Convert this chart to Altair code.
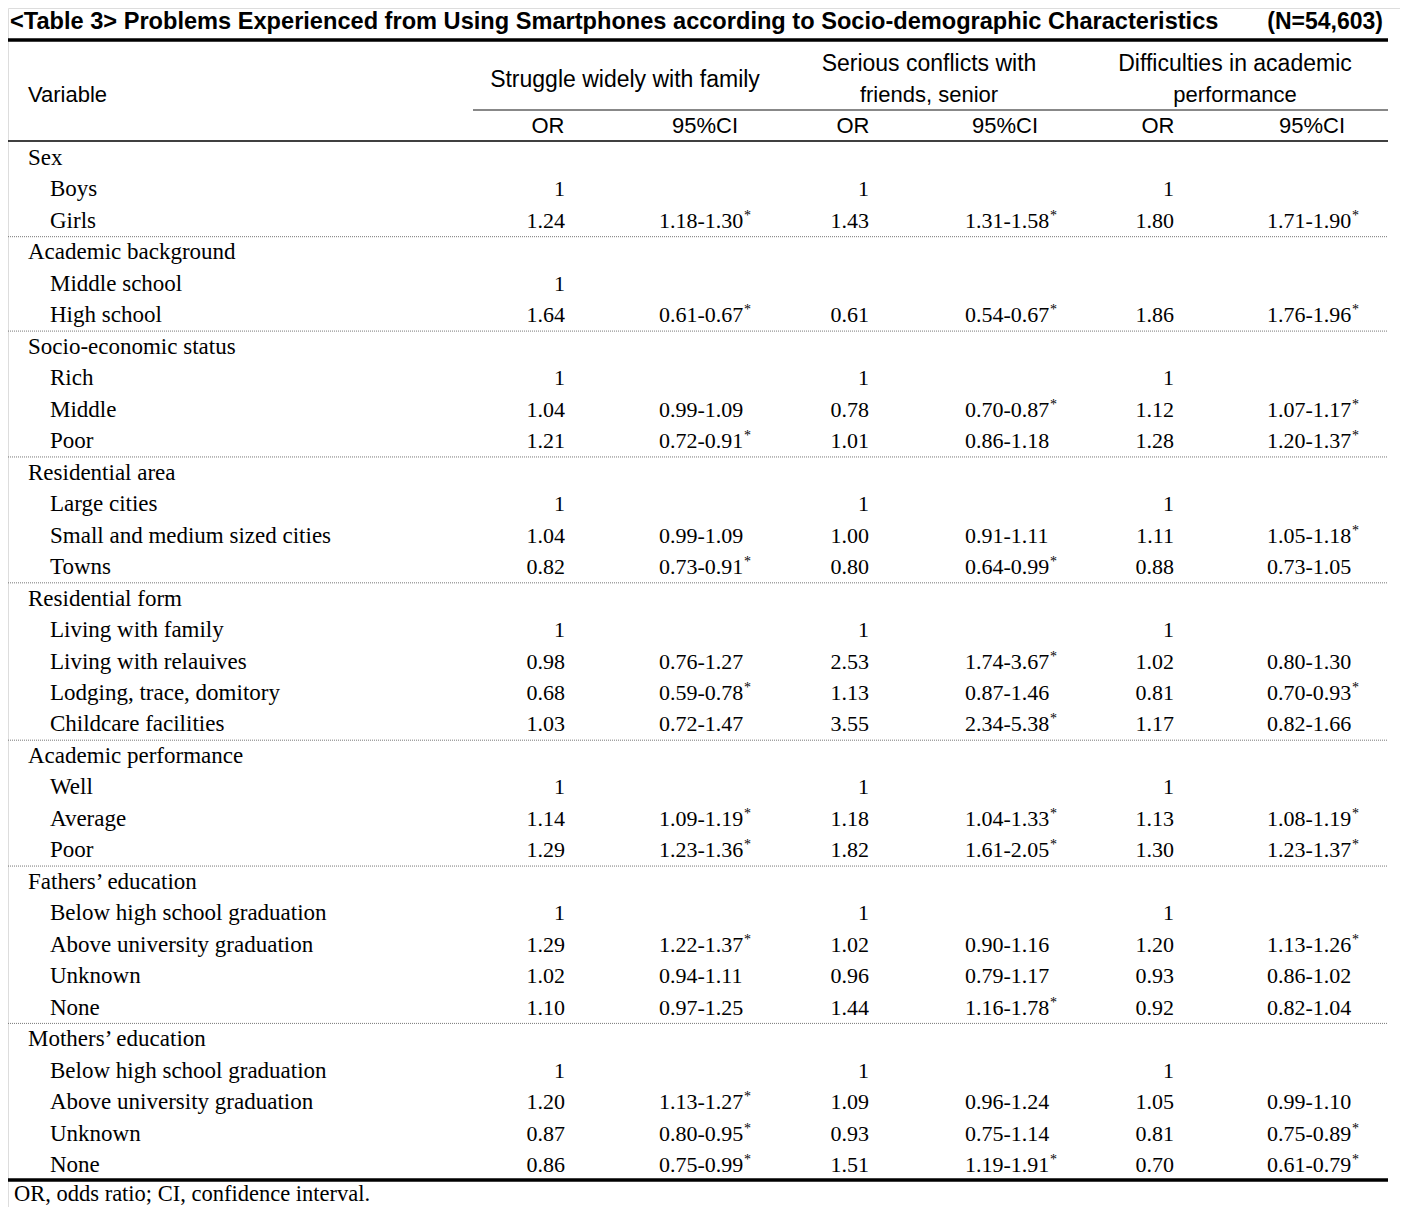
import altair as alt
import pandas as pd

# ---------------- data ----------------
title_main = "<Table 3> Problems Experienced from Using Smartphones according to Socio-demographic Characteristics"
title_n = "(N=54,603)"
head_variable = "Variable"
head_groups = [["Struggle widely with family"],
               ["Serious conflicts with", "friends, senior"],
               ["Difficulties in academic", "performance"]]
head_sub = ["OR", "95%CI"]
footnote = "OR, odds ratio; CI, confidence interval."

groups = ["Sex", "Academic background", "Socio-economic status", "Residential area",
          "Residential form", "Academic performance", "Fathers\u2019 education", "Mothers\u2019 education"]
items = [
    ["Boys", "Girls"],
    ["Middle school", "High school"],
    ["Rich", "Middle", "Poor"],
    ["Large cities", "Small and medium sized cities", "Towns"],
    ["Living with family", "Living with relauives", "Lodging, trace, domitory", "Childcare facilities"],
    ["Well", "Average", "Poor"],
    ["Below high school graduation", "Above university graduation", "Unknown", "None"],
    ["Below high school graduation", "Above university graduation", "Unknown", "None"],
]
or1 = ["1", "1.24", "1", "1.64", "1", "1.04", "1.21", "1", "1.04", "0.82",
       "1", "0.98", "0.68", "1.03", "1", "1.14", "1.29", "1", "1.29", "1.02", "1.10",
       "1", "1.20", "0.87", "0.86"]
ci1 = ["", "1.18-1.30*", "", "0.61-0.67*", "", "0.99-1.09", "0.72-0.91*", "", "0.99-1.09", "0.73-0.91*",
       "", "0.76-1.27", "0.59-0.78*", "0.72-1.47", "", "1.09-1.19*", "1.23-1.36*", "", "1.22-1.37*", "0.94-1.11", "0.97-1.25",
       "", "1.13-1.27*", "0.80-0.95*", "0.75-0.99*"]
or2 = ["1", "1.43", "", "0.61", "1", "0.78", "1.01", "1", "1.00", "0.80",
       "1", "2.53", "1.13", "3.55", "1", "1.18", "1.82", "1", "1.02", "0.96", "1.44",
       "1", "1.09", "0.93", "1.51"]
ci2 = ["", "1.31-1.58*", "", "0.54-0.67*", "", "0.70-0.87*", "0.86-1.18", "", "0.91-1.11", "0.64-0.99*",
       "", "1.74-3.67*", "0.87-1.46", "2.34-5.38*", "", "1.04-1.33*", "1.61-2.05*", "", "0.90-1.16", "0.79-1.17", "1.16-1.78*",
       "", "0.96-1.24", "0.75-1.14", "1.19-1.91*"]
or3 = ["1", "1.80", "", "1.86", "1", "1.12", "1.28", "1", "1.11", "0.88",
       "1", "1.02", "0.81", "1.17", "1", "1.13", "1.30", "1", "1.20", "0.93", "0.92",
       "1", "1.05", "0.81", "0.70"]
ci3 = ["", "1.71-1.90*", "", "1.76-1.96*", "", "1.07-1.17*", "1.20-1.37*", "", "1.05-1.18*", "0.73-1.05",
       "", "0.80-1.30", "0.70-0.93*", "0.82-1.66", "", "1.08-1.19*", "1.23-1.37*", "", "1.13-1.26*", "0.86-1.02", "0.82-1.04",
       "", "0.99-1.10", "0.75-0.89*", "0.61-0.79*"]

# ---------------- build tables ----------------
label_rows, cell_rows, sep_rows = [], [], []
r = 0
k = 0
for gi, g in enumerate(groups):
    label_rows.append({"r": r, "label": g, "kind": "group"})
    r += 1
    for it in items[gi]:
        label_rows.append({"r": r, "label": it, "kind": "item"})
        for col, arr in (("or1", or1), ("ci1", ci1), ("or2", or2),
                         ("ci2", ci2), ("or3", or3), ("ci3", ci3)):
            s = arr[k]
            if s:
                cell_rows.append({"r": r, "col": col, "text": s.rstrip("*"),
                                  "sig": s.endswith("*")})
        k += 1
        r += 1
    if gi < len(groups) - 1:
        sep_rows.append({"r": r - 0.5})

labels = pd.DataFrame(label_rows)
cells = pd.DataFrame(cell_rows)
seps = pd.DataFrame(sep_rows)
n_rows = r

SERIF = "Liberation Serif, Times New Roman, serif"
SANS = "Liberation Sans Narrow, Liberation Sans, Arial, sans-serif"
FS = 22
FS_LABEL = 23

W, H = 1392, 1199
yscale = alt.Scale(domain=[0, n_rows - 1], range=[150, 1157], nice=False, zero=False)
Y = alt.Y("r:Q", scale=yscale, axis=None)

layers = []

# row labels
layers.append(alt.Chart(labels).transform_filter("datum.kind == 'group'").mark_text(
    font=SERIF, fontSize=FS_LABEL, align="left", baseline="middle", color="black"
).encode(x=alt.value(20), y=Y, text="label:N"))
layers.append(alt.Chart(labels).transform_filter("datum.kind == 'item'").mark_text(
    font=SERIF, fontSize=FS_LABEL, align="left", baseline="middle", color="black"
).encode(x=alt.value(42), y=Y, text="label:N"))

# numeric cells
col_x = {"or1": (557, "right"), "ci1": (651, "left"),
         "or2": (861, "right"), "ci2": (957, "left"),
         "or3": (1166, "right"), "ci3": (1259, "left")}
for col, (xp, al) in col_x.items():
    layers.append(alt.Chart(cells).transform_filter(f"datum.col == '{col}'").mark_text(
        font=SERIF, fontSize=FS, align=al, baseline="middle", color="black"
    ).encode(x=alt.value(xp), y=Y, text="text:N"))
    if col.startswith("ci"):
        layers.append(alt.Chart(cells).transform_filter(
            f"datum.col == '{col}' && datum.sig").mark_text(
            font=SERIF, fontSize=14, align="left", baseline="alphabetic", color="black", dy=-1
        ).encode(x=alt.value(xp + 85), y=Y, text=alt.value("*")))

# dotted separators
layers.append(alt.Chart(seps).mark_rule(color="#777", strokeWidth=1, strokeDash=[1, 1]).encode(
    x=alt.value(0), x2=alt.value(1380), y=Y))

# horizontal rules
dummy = pd.DataFrame({"a": [0]})
def hrule(x0, x1, yp, w, c):
    return alt.Chart(dummy).mark_rule(color=c, strokeWidth=w).encode(
        x=alt.value(x0), x2=alt.value(x1), y=alt.value(yp))

layers += [hrule(0, 1380, 32, 3.5, "black"),
           hrule(465, 1380, 102, 2, "#888"),
           hrule(0, 1380, 133, 1.5, "black"),
           hrule(0, 1380, 1172, 3.5, "black")]

def txt(s, xp, yp, font, size, align="left", weight="normal"):
    return alt.Chart(dummy).mark_text(font=font, fontSize=size, align=align,
                                      baseline="middle", color="black", fontWeight=weight
                                      ).encode(x=alt.value(xp), y=alt.value(yp), text=alt.value(s))

# title
layers.append(txt(title_main, 2, 13.5, SANS, 23.6, "left", "bold"))
layers.append(txt(title_n, 1375, 13.5, SANS, 23, "right", "bold"))

# headers
layers.append(txt(head_variable, 20, 87, SANS, 22))
centers = [617, 921, 1227]
for c, lines in zip(centers, head_groups):
    if len(lines) == 1:
        layers.append(txt(lines[0], c, 72, SANS, 23, "center"))
    else:
        layers.append(txt(lines[0], c, 56, SANS, 23, "center"))
        layers.append(txt(lines[1], c, 87, SANS, 22, "center"))
sub_or = [540, 845, 1150]
sub_ci = [697, 997, 1304]
for a, b in zip(sub_or, sub_ci):
    layers.append(txt(head_sub[0], a, 118, SANS, 22, "center"))
    layers.append(txt(head_sub[1], b, 118, SANS, 22, "center"))

# footnote
layers.append(txt(footnote, 6, 1186, SERIF, 22.5))

chart = alt.layer(*layers).properties(
    width=W, height=H, padding=0,
    autosize=alt.AutoSizeParams(type="none")
).configure_view(stroke=None).configure(background="white")

chart.save("out.html", embed_options={"renderer": "svg", "actions": False})
